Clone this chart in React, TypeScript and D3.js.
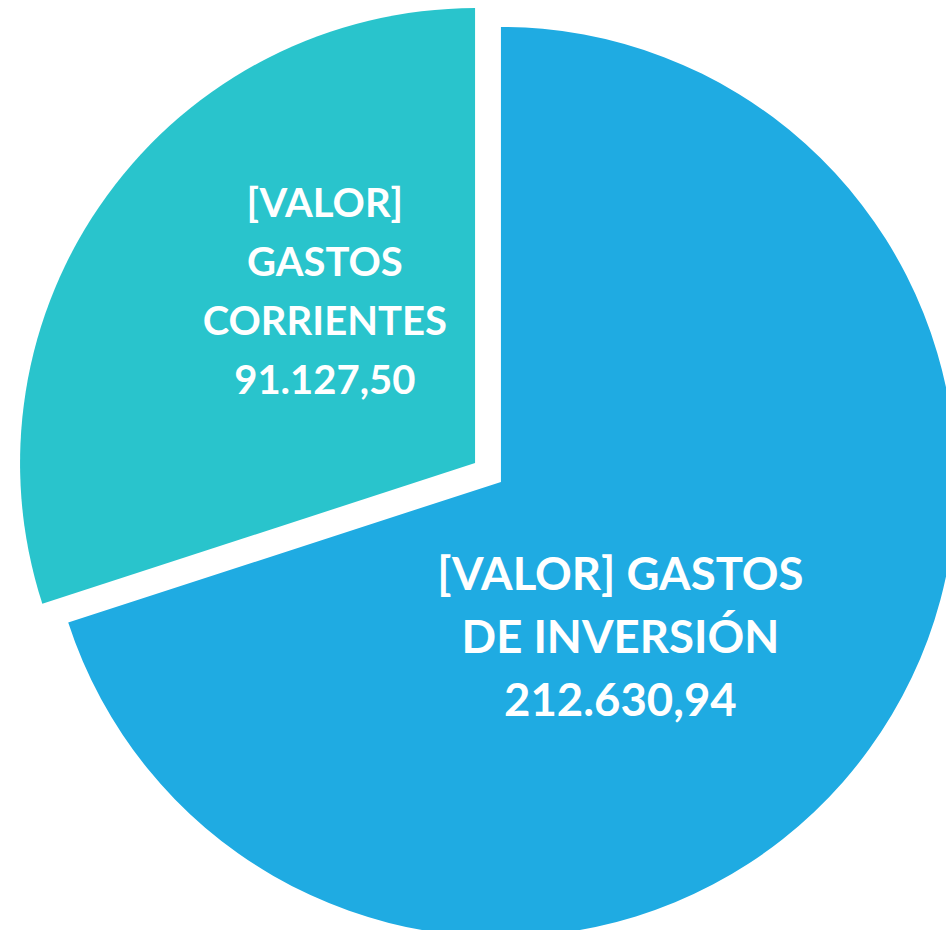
import React from "react";
import * as d3 from "d3";

const categories = ["GASTOS DE INVERSIÓN", "GASTOS CORRIENTES"];
const values = [212630.94, 91127.5];
const valueLabels = ["212.630,94", "91.127,50"];
const labelLines = [
  ["[VALOR] GASTOS", "DE INVERSIÓN", valueLabels[0]],
  ["[VALOR]", "GASTOS", "CORRIENTES", valueLabels[1]],
];
const colors = ["#1FABE2", "#29C4CC"];

const W = 946;
const H = 930;
const cx = 488;
const cy = 472.5;
const R = 455;
const explode = 16;
// label placement (angle in degrees clockwise from 12 o'clock, distance from slice apex)
const labelPos = [
  { angle: 142, dist: 194, size: 45.5, lh: 63 },
  { angle: 319, dist: 229, size: 40, lh: 59 },
];

export default function App() {
  const pie = d3
    .pie<number>()
    .sort(null)
    .value((d) => d);
  const arcs = pie(values);
  const arc = d3.arc<d3.PieArcDatum<number>>().innerRadius(0).outerRadius(R);

  return (
    <svg
      width={W}
      height={H}
      style={{ position: "absolute", left: 0, top: 0 }}
      fontFamily="Lato, 'Open Sans', sans-serif"
    >
      {arcs.map((a, i) => {
        const mid = (a.startAngle + a.endAngle) / 2;
        const ox = Math.sin(mid) * explode;
        const oy = -Math.cos(mid) * explode;
        const lp = labelPos[i];
        const la = (lp.angle * Math.PI) / 180;
        const lx = Math.sin(la) * lp.dist;
        const ly = -Math.cos(la) * lp.dist;
        const lines = labelLines[i];
        const startY = ly - ((lines.length - 1) * lp.lh) / 2;
        return (
          <g key={categories[i]} transform={`translate(${cx + ox},${cy + oy})`}>
            <path d={arc(a) || ""} fill={colors[i]} />
            <text
              textAnchor="middle"
              fill="#fff"
              fontWeight="bold"
              fontSize={lp.size}
              dominantBaseline="central"
            >
              {lines.map((l, j) => (
                <tspan key={j} x={lx} y={startY + j * lp.lh}>
                  {l}
                </tspan>
              ))}
            </text>
          </g>
        );
      })}
    </svg>
  );
}
